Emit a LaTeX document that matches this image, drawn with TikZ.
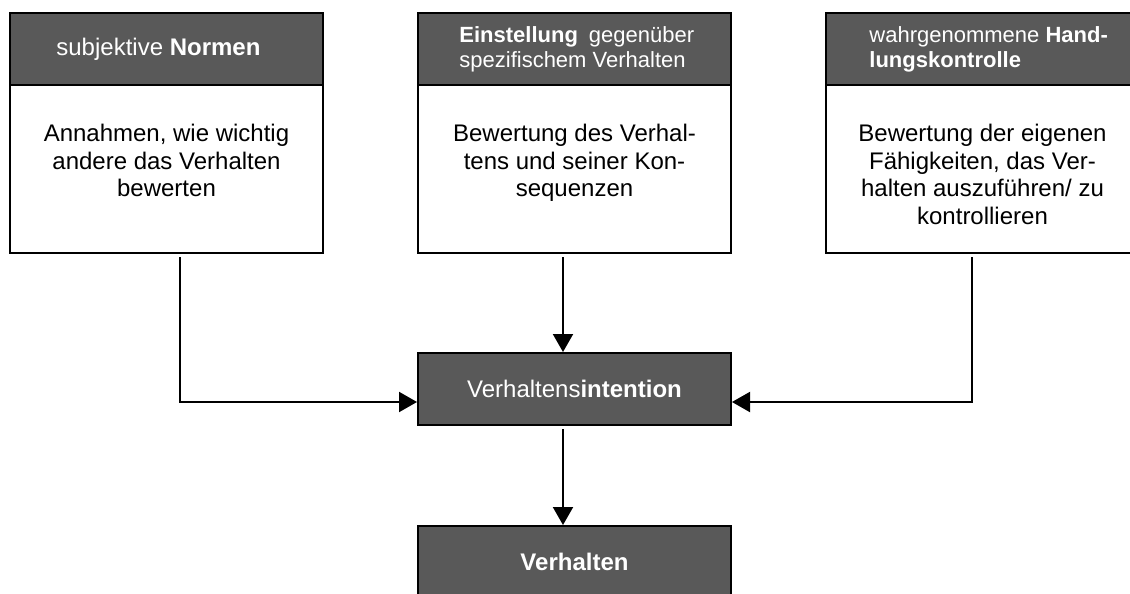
\documentclass[tikz,border=0pt]{standalone}
\usepackage{fontspec}
\setmainfont{Liberation Sans}
\usetikzlibrary{positioning, arrows.meta}
\definecolor{kopfgrau}{RGB}{89,89,89}

\begin{document}
\begin{tikzpicture}[x=0.5pt, y=-0.5pt]
    \tikzset{kopf/.style={draw=black, line width=1pt, fill=kopfgrau, text=white, minimum width=156.5pt, minimum height=36pt, inner sep=0pt, font=\fontsize{12}{14}\selectfont},
             rumpf/.style={draw=black, line width=1pt, fill=white, minimum width=156.5pt, minimum height=84pt, inner sep=0pt},
             kopftext/.style={anchor=west, align=left, text=white, inner sep=0pt, font=\fontsize{11}{12.5}\selectfont},
             rumpftext/.style={anchor=north, align=center, inner sep=0pt, font=\fontsize{12}{13.8}\selectfont},
             pfeil/.style={-{Triangle[length=9pt, width=10pt]}, line width=1pt, shorten <=1.5pt}}
    \useasboundingbox (0,0) rectangle (1130,594);
    \node[kopf] (K1) at (166.5,49) {}; \node[rumpf] (R1) at (166.5,169) {};
    \node[kopf] (K2) at (574.5,49) {}; \node[rumpf] (R2) at (574.5,169) {};
    \node[kopf] (K3) at (982.5,49) {}; \node[rumpf] (R3) at (982.5,169) {};
    \node[kopftext, font=\fontsize{12}{14}\selectfont, right=23.5pt of K1.west] (KT1) {subjektive \textbf{Normen}};
    \node[kopftext, right=21pt of K2.west] (KT2) {\textbf{Einstellung}\enspace gegenüber\\spezifischem Verhalten};
    \node[kopftext, right=22pt of K3.west] (KT3) {wahrgenommene \textbf{Hand-}\\\textbf{lungskontrolle}};
    \node[rumpftext, below=19pt of K1.south] (RT1) {Annahmen, wie wichtig\\andere das Verhalten\\bewerten};
    \node[rumpftext, below=19pt of K2.south] (RT2) {Bewertung des Verhal-\\tens und seiner Kon-\\sequenzen};
    \node[rumpftext, below=19pt of K3.south] (RT3) {Bewertung der eigenen\\Fähigkeiten, das Ver-\\halten auszuführen/ zu\\kontrollieren};
    \node[kopf] (I) at (574.5,389) {Verhaltens\textbf{intention}};
    \node[kopf] (V) at (574.5,562) {\textbf{Verhalten}};
    \draw[pfeil] ([xshift=6.75pt]R1.south) |- ([yshift=-6.5pt]I.west);
    \draw[pfeil] ([xshift=-5.25pt]R3.south) |- ([yshift=-6.5pt]I.east);
    \draw[pfeil] ([xshift=-5.75pt]R2.south) -- ([xshift=-5.75pt]I.north);
    \draw[pfeil] ([xshift=-5.75pt]I.south) -- ([xshift=-5.75pt]V.north);
  \end{tikzpicture}
\end{document}
